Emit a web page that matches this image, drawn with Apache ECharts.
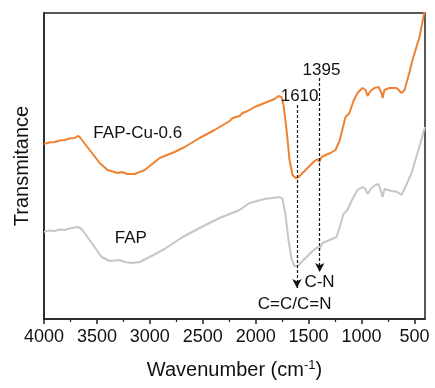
<!DOCTYPE html>
<html>
<head>
<meta charset="utf-8">
<script src="https://cdn.jsdelivr.net/npm/echarts@6/dist/echarts.min.js"></script>
<style>
html,body{margin:0;padding:0;background:#fff;}
#c{width:435px;height:388px;}
</style>
</head>
<body>
<div id="c"></div>
<script>
// Wavenumber (cm-1) and transmittance (arbitrary units, offset curves)
const cuWave = [4000,3950,3899,3850,3805,3760,3710,3682,3663,3568,3474,3399,3304,3266,3210,3144,3049,2907,2766,2671,2530,2388,2246,2218,2152,2123,2076,2010,1916,1821,1784,1756,1737,1708,1680,1652,1623,1595,1538,1491,1444,1416,1397,1378,1340,1293,1246,1208,1170,1151,1114,1076,1038,991,962,943,915,877,839,811,801,783,735,669,622,593,546,518,452,400];
const cuVals = [175,176.5,177,178.5,179,180.5,181,183,182,169,156,149,146,147,145,145,149,161,167,172,181,189,198,201,203,206,208,212,216,220,223,222,214,189,159,144,141,142,148,153,158,160,157,162,164,166,169,178,194,202,206,218,226,231,229,223,228,231,232,226,221,229,231,231,226,229,247,259,282,310];
const fapWave = [4000,3950,3899,3850,3805,3760,3682,3644,3549,3455,3380,3285,3238,3162,3096,3002,2860,2690,2530,2341,2152,2058,1916,1774,1746,1718,1690,1661,1633,1604,1557,1519,1472,1416,1397,1368,1302,1236,1208,1170,1133,1095,1038,991,962,943,905,868,839,811,801,783,716,660,622,603,527,471,400];
const fapVals = [87,88.5,88,89.5,89,90.5,92,90,76,62,58,59,57,56,57,62,70,82,91,101,109,116,120,122,120,104,79,60,53,53,58,62,67,72,70,76,79,82,91,105,109,118,129,132,130,125,131,134,135,126,122,130,128,127,124,128,146,166,192];
const seriesNames = ['FAP-Cu-0.6','FAP'];
const majorTicks = [4000,3500,3000,2500,2000,1500,1000,500];
const minorTicks = [3750,3250,2750,2250,1750,1250,750];
// annotation peaks: wavenumber, line top, arrow tip
const peakWave = [1610,1395];
const peakTop = [214,241];
const peakTip = [31,47];
const peakLabels = ['1610','1395'];
const bondLabels = ['C=C/C=N','C-N'];

const pair = (xs, ys) => xs.map((x,i)=>[x, ys[i]]);
const fontFam = '"Liberation Sans", Arial, Helvetica, sans-serif';
const txt = '#111';

const labelPts = [
  {value:[1585,223], text:peakLabels[0]},
  {value:[1378,249], text:peakLabels[1]},
  {value:[1397,37], text:bondLabels[1]},
  {value:[1632,15], text:bondLabels[0]},
  {value:[3114,186], text:seriesNames[0]},
  {value:[3180,81], text:seriesNames[1]}
];

const chart = echarts.init(document.getElementById('c'), null, {renderer:'canvas'});
const axBase = {type:'value', min:400, max:4000, inverse:true, gridIndex:0, position:'bottom'};
chart.setOption({
  animation:false,
  backgroundColor:'#fff',
  grid:{left:44, right:10, top:13, bottom:69, show:true, borderColor:'#222', borderWidth:1.5, backgroundColor:'transparent'},
  xAxis:[
    Object.assign({}, axBase, {
      name:'Wavenumber (cm{sup|-1})', nameLocation:'middle', nameGap:40,
      nameTextStyle:{fontFamily:fontFam, fontSize:20, color:txt,
        rich:{sup:{fontFamily:fontFam, fontSize:13, color:txt, padding:[0,0,10,0]}}},
      axisLine:{show:true, lineStyle:{color:'#222', width:1.5}},
      axisTick:{show:true, inside:false, length:5, customValues:majorTicks, lineStyle:{color:'#222', width:1.5}},
      axisLabel:{show:true, margin:9, customValues:majorTicks, formatter:v=>String(v), fontFamily:fontFam, fontSize:18, color:txt},
      splitLine:{show:false}
    }),
    Object.assign({}, axBase, {
      axisLine:{show:true, lineStyle:{color:'rgba(0,0,0,0)', width:1}},
      axisTick:{show:true, inside:false, length:3, customValues:minorTicks, lineStyle:{color:'#222', width:1.2}},
      axisLabel:{show:false},
      splitLine:{show:false}
    })
  ],
  yAxis:{
    type:'value', min:0, max:306,
    name:'Transmitance', nameLocation:'middle', nameGap:12,
    nameTextStyle:{fontFamily:fontFam, fontSize:20, color:txt},
    axisLine:{show:true, lineStyle:{color:'#222', width:1.5}},
    axisTick:{show:false}, axisLabel:{show:false}, splitLine:{show:false}
  },
  series:[
    {
      name:seriesNames[0], type:'line', xAxisIndex:0, data:pair(cuWave, cuVals), showSymbol:false, symbol:'none',
      lineStyle:{color:'#EE8232', width:2}, clip:true, z:3,
      markLine:{
        silent:true, symbol:['none','arrow'], symbolSize:[7,9],
        label:{show:false},
        lineStyle:{type:[3,2], color:'#111', width:1.2},
        data: peakWave.map((w,i)=>[{coord:[w, peakTop[i]]},{coord:[w, peakTip[i]]}])
      }
    },
    {
      name:seriesNames[1], type:'line', xAxisIndex:0, data:pair(fapWave, fapVals), showSymbol:false, symbol:'none',
      lineStyle:{color:'#C6C6C6', width:2}, clip:true, z:2
    },
    {
      type:'scatter', xAxisIndex:0, symbolSize:0, silent:true, z:5,
      itemStyle:{opacity:1},
      data: labelPts.map(p=>({value:p.value, name:p.text})),
      label:{show:true, position:[0,0], align:'center', verticalAlign:'middle', formatter:p=>p.name,
        fontFamily:fontFam, fontSize:17, color:'#111', opacity:1}
    }
  ]
});
</script>
</body>
</html>
